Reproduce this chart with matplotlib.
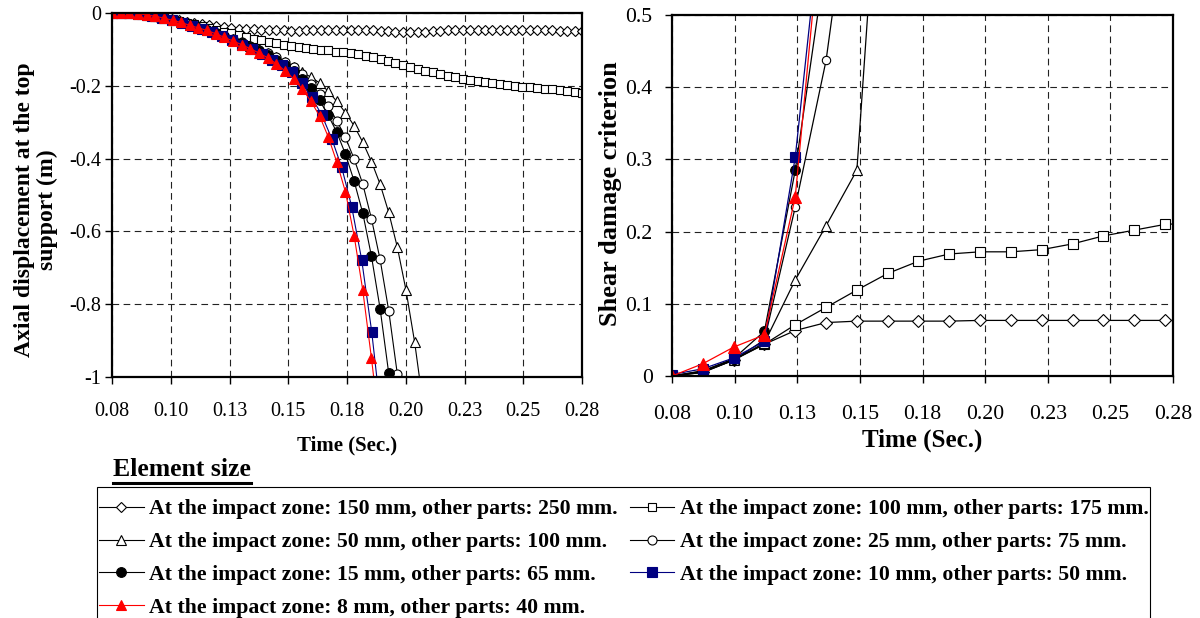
import numpy as np
import matplotlib
matplotlib.use('Agg')
import matplotlib.pyplot as plt
from matplotlib.lines import Line2D
from matplotlib.patches import Rectangle

plt.rcParams['font.family'] = ['Liberation Serif', 'DejaVu Serif']
plt.rcParams['axes.unicode_minus'] = False

# ---- left chart: axial displacement at the top support (m) ----
# long runs (150 mm and 100 mm) are sampled on a finer grid up to 0.28 s
t_long = np.linspace(0.08, 0.28, 64)
disp_150 = [0, 0, -0.001, -0.002, -0.004, -0.007, -0.010, -0.013, -0.017, -0.020,
            -0.024, -0.028, -0.031, -0.034, -0.037, -0.039, -0.041, -0.043, -0.044, -0.045,
            -0.046, -0.047, -0.048, -0.048, -0.049, -0.049, -0.048, -0.048, -0.047, -0.047,
            -0.046, -0.046, -0.046, -0.047, -0.047, -0.048, -0.049, -0.050, -0.051, -0.051,
            -0.052, -0.052, -0.051, -0.050, -0.049, -0.048, -0.047, -0.046, -0.046, -0.046,
            -0.046, -0.046, -0.046, -0.046, -0.046, -0.046, -0.047, -0.047, -0.048, -0.048,
            -0.049, -0.049, -0.049, -0.049]
disp_100 = [0, 0, -0.001, -0.002, -0.004, -0.007, -0.010, -0.014, -0.018, -0.022,
            -0.027, -0.031, -0.036, -0.041, -0.046, -0.051, -0.056, -0.061, -0.066, -0.071,
            -0.075, -0.079, -0.083, -0.087, -0.090, -0.093, -0.096, -0.099, -0.101, -0.103,
            -0.106, -0.108, -0.111, -0.114, -0.118, -0.122, -0.127, -0.132, -0.137, -0.142,
            -0.148, -0.153, -0.158, -0.163, -0.168, -0.172, -0.176, -0.180, -0.184, -0.187,
            -0.190, -0.193, -0.195, -0.198, -0.200, -0.202, -0.204, -0.206, -0.208, -0.210,
            -0.212, -0.215, -0.218, -0.221]

# failing runs, output step about 0.00368 s
step_a = 0.00368
disp_50 = [0, 0, 0, -0.002, -0.005, -0.009, -0.014, -0.020, -0.026, -0.033,
           -0.040, -0.047, -0.055, -0.063, -0.071, -0.080, -0.090, -0.100, -0.110, -0.121,
           -0.134, -0.149, -0.163, -0.176, -0.192, -0.215, -0.243, -0.274, -0.310, -0.355,
           -0.408, -0.470, -0.548, -0.644, -0.762, -0.905, -1.08]
disp_25 = [0, 0, 0, -0.002, -0.005, -0.009, -0.014, -0.020, -0.026, -0.033,
           -0.040, -0.047, -0.055, -0.063, -0.072, -0.081, -0.091, -0.101, -0.111, -0.122,
           -0.134, -0.148, -0.168, -0.195, -0.223, -0.255, -0.296, -0.342, -0.401, -0.470,
           -0.565, -0.677, -0.818, -0.993, -1.2]
disp_15 = [0, 0, 0, -0.002, -0.005, -0.009, -0.014, -0.020, -0.026, -0.033,
           -0.040, -0.047, -0.055, -0.064, -0.073, -0.083, -0.093, -0.104, -0.116, -0.129,
           -0.143, -0.158, -0.180, -0.205, -0.240, -0.281, -0.328, -0.388, -0.462, -0.550,
           -0.668, -0.812, -0.990, -1.2]
disp_8 = [0, 0, 0, -0.002, -0.005, -0.009, -0.014, -0.020, -0.026, -0.034,
          -0.041, -0.048, -0.057, -0.067, -0.077, -0.087, -0.098, -0.110, -0.123, -0.139,
          -0.159, -0.181, -0.209, -0.242, -0.283, -0.340, -0.410, -0.492, -0.612, -0.762,
          -0.948, -1.15]
# 10 mm run, output step about 0.00425 s
step_b = 0.00425
disp_10 = [0, 0, -0.001, -0.003, -0.007, -0.013, -0.019, -0.027, -0.036, -0.044,
           -0.053, -0.064, -0.075, -0.087, -0.100, -0.114, -0.128, -0.143, -0.162, -0.193,
           -0.232, -0.280, -0.345, -0.424, -0.532, -0.678, -0.875, -1.12]

# ---- right chart: shear damage criterion ----
step_r = 0.0123
shear_150 = [0, 0.005, 0.022, 0.044, 0.063, 0.074, 0.076, 0.076, 0.076, 0.076,
             0.077, 0.077, 0.077, 0.077, 0.077, 0.077, 0.077, 0.077]
shear_100 = [0, 0.007, 0.023, 0.044, 0.071, 0.095, 0.119, 0.142, 0.159, 0.169,
             0.172, 0.172, 0.175, 0.183, 0.194, 0.202, 0.210, 0.212]
shear_50 = [0, 0.006, 0.022, 0.046, 0.133, 0.208, 0.285, 0.9]
shear_25 = [0, 0.005, 0.022, 0.050, 0.234, 0.437, 0.75]
shear_15 = [0, 0.007, 0.024, 0.062, 0.285, 0.58]
shear_10 = [0.002, 0.010, 0.025, 0.048, 0.303, 0.70]
shear_8 = [0, 0.017, 0.040, 0.057, 0.248, 0.70]

labels = ['At the impact zone: 150 mm, other parts: 250 mm.',
          'At the impact zone: 100 mm, other parts: 175 mm.',
          'At the impact zone: 50 mm, other parts: 100 mm.',
          'At the impact zone: 25 mm, other parts: 75 mm.',
          'At the impact zone: 15 mm, other parts: 65 mm.',
          'At the impact zone: 10 mm, other parts: 50 mm.',
          'At the impact zone: 8 mm, other parts: 40 mm.']

x_ticks = [0.08, 0.105, 0.13, 0.155, 0.18, 0.205, 0.23, 0.255, 0.28]
x_tick_labels = ['0.08', '0.10', '0.13', '0.15', '0.18', '0.20', '0.23', '0.25', '0.28']

navy = '#000080'
styles = [
    dict(color='k', marker='D', mfc='white', mec='k'),
    dict(color='k', marker='s', mfc='white', mec='k'),
    dict(color='k', marker='^', mfc='white', mec='k'),
    dict(color='k', marker='o', mfc='white', mec='k'),
    dict(color='k', marker='o', mfc='k', mec='k'),
    dict(color=navy, marker='s', mfc=navy, mec=navy),
    dict(color='red', marker='^', mfc='red', mec='red'),
]
left_ms = [5, 6, 7, 6.5, 7, 6.5, 7.5]
right_ms = [6, 7.5, 7, 6, 7, 7.5, 8]

fig = plt.figure(figsize=(12, 6.18), dpi=100)
ax1 = fig.add_axes([112 / 1200, 1 - 377 / 618, 470 / 1200, 364 / 618])
ax2 = fig.add_axes([672 / 1200, 1 - 376 / 618, 501 / 1200, 361 / 618])

left_series = [(t_long, disp_150), (t_long, disp_100)]
for d in [disp_50, disp_25, disp_15]:
    left_series.append((0.08 + step_a * np.arange(len(d)), d))
left_series.append((0.08 + step_b * np.arange(len(disp_10)), disp_10))
left_series.append((0.08 + step_a * np.arange(len(disp_8)), disp_8))

handles = []
for (t, d), st, ms, lab in zip(left_series, styles, left_ms, labels):
    h, = ax1.plot(t, d, lw=0.8, ms=ms, mew=0.8, label=lab, **st)
    handles.append(h)

right_series = [shear_150, shear_100, shear_50, shear_25, shear_15, shear_10, shear_8]
for i, (d, st, ms) in enumerate(zip(right_series, styles, right_ms)):
    t = 0.08 + step_r * np.arange(len(d))
    mk = slice(0, 17) if i < 2 else None
    ax2.plot(t, d, lw=0.9, ms=ms, mew=0.8, markevery=mk, **st)

for ax in (ax1, ax2):
    ax.set_xlim(0.08, 0.28)
    ax.set_xticks(x_ticks)
    ax.set_xticklabels(x_tick_labels)
    ax.grid(True, color='#222222', lw=0.8, ls=(0, (6, 4)))
    ax.set_axisbelow(True)
    for sp in ax.spines.values():
        sp.set_linewidth(1.6)
    ax.tick_params(direction='out', length=5, width=1)

ax1.set_ylim(-1, 0)
ax1.set_yticks([-1, -0.8, -0.6, -0.4, -0.2, 0])
ax1.set_yticklabels(['-1', '-0.8', '-0.6', '-0.4', '-0.2', '0'])
ax1.tick_params(axis='x', labelsize=14.5, pad=13)
ax1.tick_params(axis='y', labelsize=14.5, pad=3)

ax2.set_ylim(0, 0.5)
ax2.set_yticks([0, 0.1, 0.2, 0.3, 0.4, 0.5])
ax2.set_yticklabels(['0', '0.1', '0.2', '0.3', '0.4', '0.5'])
ax2.tick_params(axis='x', labelsize=15.7, pad=16)
ax2.tick_params(axis='y', labelsize=15.7, pad=9)

fig.text(347 / 1200, 1 - 445 / 618, 'Time (Sec.)', fontsize=15, weight='bold',
         ha='center', va='center')
fig.text(922 / 1200, 1 - 440 / 618, 'Time (Sec.)', fontsize=18, weight='bold',
         ha='center', va='center')
fig.text(36 / 1200, 1 - 210 / 618, 'Axial displacement at the top\nsupport (m)',
         fontsize=17, weight='bold', rotation=90, ha='center', va='center',
         multialignment='center', linespacing=1.15)
fig.text(610 / 1200, 1 - 194 / 618, 'Shear damage criterion', fontsize=19,
         weight='bold', rotation=90, ha='center', va='center')

title = fig.text(113 / 1200, 1 - 469 / 618, 'Element size', fontsize=18.5,
                 weight='bold', ha='left', va='center')

# legend box runs past the bottom edge of the picture
fig.add_artist(Rectangle((97 / 1200, -0.03), (1150 - 97) / 1200, 1 - 487 / 618 + 0.03,
                         transform=fig.transFigure, fill=False, edgecolor='k', lw=0.8))

order = [0, 2, 4, 6, 1, 3, 5]
leg = fig.legend([handles[i] for i in order], [labels[i] for i in order],
                 loc='upper left', bbox_to_anchor=(99 / 1200, 1 - 499 / 618),
                 ncol=2, frameon=False,
                 prop=dict(size=15.7, weight='bold'), handlelength=2.05,
                 handletextpad=0.25, columnspacing=0.55, labelspacing=0.58,
                 borderpad=0, borderaxespad=0)

# underline for "Element size"
fig.canvas.draw()
bb = title.get_window_extent()
W, H = fig.canvas.get_width_height()
fig.add_artist(Line2D([bb.x0 / W, bb.x1 / W], [(bb.y0 - 2) / H, (bb.y0 - 2) / H],
                      transform=fig.transFigure, color='k', lw=2.2))

fig.savefig('out.png', dpi=100)
